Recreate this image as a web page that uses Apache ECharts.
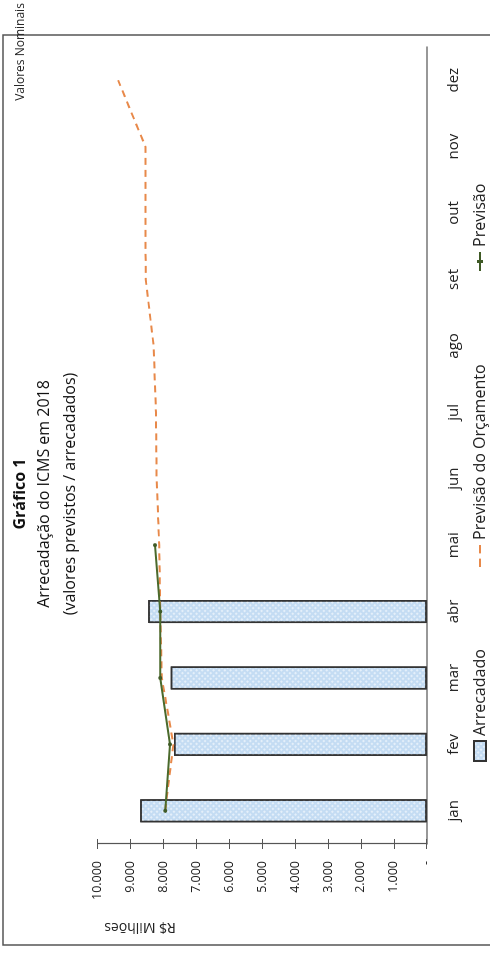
<!DOCTYPE html>
<html>
<head>
<meta charset="utf-8">
<script src="https://cdn.jsdelivr.net/npm/echarts@6/dist/echarts.min.js"></script>
<style>
html,body{margin:0;padding:0;background:#fff;width:490px;height:956px;overflow:hidden;}
#c{position:absolute;left:0;top:0;width:956px;height:490px;transform-origin:0 0;transform:translate(0px,956px) rotate(-90deg);}
</style>
</head>
<body>
<div id="c"></div>
<script>
const months = ['jan','fev','mar','abr','mai','jun','jul','ago','set','out','nov','dez'];
const arrecadado = [8710, 7680, 7780, 8460, null, null, null, null, null, null, null, null];
const previsaoOrcamento = [7950, 7700, 8050, 8100, 8130, 8210, 8230, 8300, 8540, 8550, 8550, 9380];
const previsao = [7950, 7800, 8100, 8100, 8260, null, null, null, null, null, null, null];
const titleLines = ['Gráfico 1', 'Arrecadação do ICMS em 2018', '(valores previstos / arrecadados)'];
const seriesNames = ['Arrecadado', 'Previsão do Orçamento', 'Previsão'];

const FONT = 'Open Sans';
const chart = echarts.init(document.getElementById('c'), null, {renderer:'canvas'});
function fmt(v){ if (v === 0) return '-'; return String(v).replace(/\B(?=(\d{3})+(?!\d))/g, '.'); }
const legendText = {fontSize: 16, color: '#222', fontFamily: FONT};

chart.setOption({
  animation: false,
  textStyle: {fontFamily: FONT},
  grid: {left: 112, right: 47, top: 97.7, bottom: 63.3, containLabel: false},
  xAxis: {
    type: 'category', data: months,
    axisLine: {show: true, lineStyle: {color: '#777', width: 1.5}},
    axisTick: {show: false},
    axisLabel: {color: '#222', fontSize: 15, margin: 20, fontFamily: FONT},
    splitLine: {show: false}
  },
  yAxis: [{
    type: 'value', min: 0, max: 10000, interval: 1000,
    axisLine: {show: true, lineStyle: {color: '#555', width: 1.2}},
    axisTick: {show: true, length: 5, lineStyle: {color: '#555'}},
    axisLabel: {color: '#222', fontSize: 12.5, margin: 17, formatter: fmt, fontFamily: FONT},
    splitLine: {show: false}
  }, {
    type: 'value', min: 0, max: 10000, interval: 1000, position: 'left',
    axisLine: {show: false},
    axisTick: {show: true, inside: true, length: 5, lineStyle: {color: '#555'}},
    axisLabel: {show: false},
    splitLine: {show: false}
  }],
  legend: [
    {left: 189, top: 467, itemWidth: 20, itemHeight: 12, textStyle: legendText,
     data: [{name: seriesNames[0], icon: 'rect'}]},
    {left: 384, top: 467, itemWidth: 22, itemHeight: 12, textStyle: legendText,
     data: [{name: seriesNames[1], icon: 'path://M0,0h8v2h-8z M13,0h8v2h-8z'}]},
    {left: 680, top: 467, itemWidth: 19, itemHeight: 12, textStyle: legendText,
     data: [{name: seriesNames[2], icon: 'path://M0,3h19v2h-19z M8,1h3v6h-3z'}]}
  ],
  graphic: [
    {type: 'rect', shape: {x: 11, y: 3, width: 910, height: 520}, style: {fill: 'none', stroke: '#555', lineWidth: 1.5}, silent: true},
    {type: 'text', x: 462, y: 12, style: {text: titleLines[0], font: 'bold 16px "Open Sans"', fill: '#111', textAlign: 'center'}},
    {type: 'text', x: 462, y: 36, style: {text: titleLines[1], font: '16px "Open Sans"', fill: '#111', textAlign: 'center'}},
    {type: 'text', x: 462, y: 62, style: {text: titleLines[2], font: '16px "Open Sans"', fill: '#111', textAlign: 'center'}},
    {type: 'text', x: 29, y: 140, rotation: Math.PI/2, style: {text: 'R$ Milhões', font: '14px "Open Sans"', fill: '#222', textAlign: 'center', textVerticalAlign: 'middle'}},
    {type: 'text', x: 904, y: 21, style: {text: 'Valores Nominais', font: '12px "Open Sans"', fill: '#222', textAlign: 'center', textVerticalAlign: 'middle'}}
  ],
  series: [
    {
      name: seriesNames[0], type: 'bar', data: arrecadado, barWidth: 23,
      itemStyle: {
        color: '#c4dcf3', borderColor: '#333', borderWidth: 1.5,
        decal: {symbol: 'rect', symbolSize: 1, color: 'rgba(255,255,255,0.55)', dashArrayX: [2, 2], dashArrayY: [2, 2], rotation: Math.PI/4}
      }
    },
    {
      name: seriesNames[1], type: 'line', data: previsaoOrcamento,
      symbol: 'none', lineStyle: {color: '#e8894a', width: 2, type: [7, 5]},
      itemStyle: {color: '#e8894a'}, z: 3
    },
    {
      name: seriesNames[2], type: 'line', data: previsao,
      symbol: 'circle', symbolSize: 4, lineStyle: {color: '#4b6a2c', width: 2},
      itemStyle: {color: '#3f5a26'}, z: 4
    }
  ]
});
</script>
</body>
</html>
